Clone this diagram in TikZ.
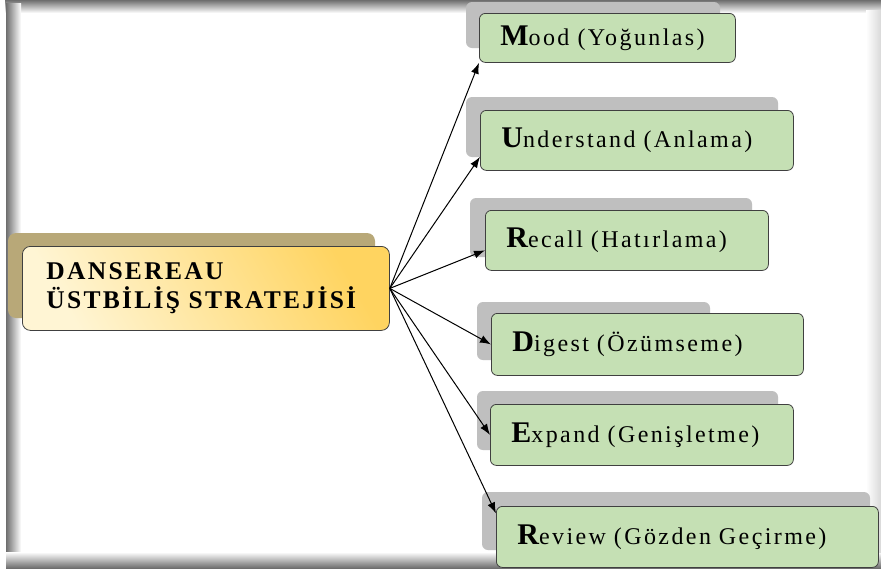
\documentclass[tikz,border=0pt]{standalone}
\usepackage{fontspec}
\setmainfont{Liberation Serif}
\newfontfamily\spacedserif[LetterSpace=10]{Liberation Serif}
\newfontfamily\hubserif[LetterSpace=9]{Liberation Serif}
\usetikzlibrary{arrows.meta, positioning, calc}
\definecolor{boxgreen}{RGB}{197,224,180}
\definecolor{boxedge}{RGB}{64,64,64}
\definecolor{shadegray}{RGB}{191,191,191}
\definecolor{hubtan}{RGB}{184,168,120}
\definecolor{hubgold}{RGB}{255,212,96}
\definecolor{hublight}{RGB}{255,245,212}
\definecolor{framegray}{RGB}{110,110,110}
\newcommand{\initial}[1]{{\fontsize{30}{30}\selectfont\bfseries #1}}

\tikzset{
  stratbox/.style={draw=boxedge, fill=boxgreen, line width=0.8pt, rounded corners=6pt,
    anchor=north west, align=left, inner xsep=21pt, inner ysep=0pt,
    font=\spacedserif\fontsize{24}{28}\selectfont},
  backshade/.style={fill=shadegray, rounded corners=6pt},
  link/.style={-{Latex[length=11pt,width=8pt]}, line width=1pt, black}
}

\begin{document}
\begin{tikzpicture}[x=1pt, y=-1pt]
\useasboundingbox (0,0) rectangle (881,571);
% frame
\fill[white] (0,0) rectangle (881,571);
\shade[top color=framegray, bottom color=white] (5,0) rectangle (881,13);
\shade[left color=framegray, right color=white] (6,3) rectangle (21,568);
\shade[top color=white, bottom color=framegray] (6,552) rectangle (881,568);
\shade[left color=white, right color=gray!30] (866,10) rectangle (881,552);

% back shades
\fill[hubtan, rounded corners=8pt] (8,233) rectangle (375,318);
\fill[backshade] (466,2) rectangle (720,48);
\fill[backshade] (466,97) rectangle (778,157);
\fill[backshade] (470,198) rectangle (752,257);
\fill[backshade] (477,302) rectangle (710,360);
\fill[backshade] (477,391) rectangle (778,450);
\fill[backshade] (482,492) rectangle (870,550);

% hub
\node[draw=boxedge, line width=0.8pt, rounded corners=8pt, anchor=north west,
  top color=hubgold, bottom color=hublight, shading angle=-60,
  text width=319pt, minimum height=84pt, inner xsep=24pt, inner ysep=0pt, align=left,
  font=\hubserif\bfseries\fontsize{25.5}{29}\selectfont] (hub) at (22,246)
  {DANSEREAU\\ÜSTBİLİŞ STRATEJİSİ};

% strategies
\node[stratbox, text width=214pt, minimum height=49pt] (mood) at (479,13) {\initial{M}ood (Yoğunlas)};
\node[stratbox, text width=271pt, minimum height=60pt] (understand) at (480,110) {\initial{U}nderstand (Anlama)};
\node[stratbox, text width=241pt, minimum height=60pt] (recall) at (485,210) {\initial{R}ecall (Hatırlama)};
\node[stratbox, text width=270pt, minimum height=62pt] (digest) at (491,313) {\initial{D}igest (Özümseme)};
\node[stratbox, text width=261pt, minimum height=61pt] (expand) at (490,404) {\initial{E}xpand (Genişletme)};
\node[stratbox, text width=340pt, minimum height=61pt] (review) at (496,506) {\initial{R}eview (Gözden Geçirme)};

% links
\draw[link] (hub.east) -- (mood.south west);
\draw[link] (hub.east) -- (understand.186);
\draw[link] (hub.east) -- (recall.184);
\draw[link] (hub.east) -- (digest.west);
\draw[link] (hub.east) -- (expand.west);
\draw[link] (hub.east) -- (review.173);
\end{tikzpicture}
\end{document}
